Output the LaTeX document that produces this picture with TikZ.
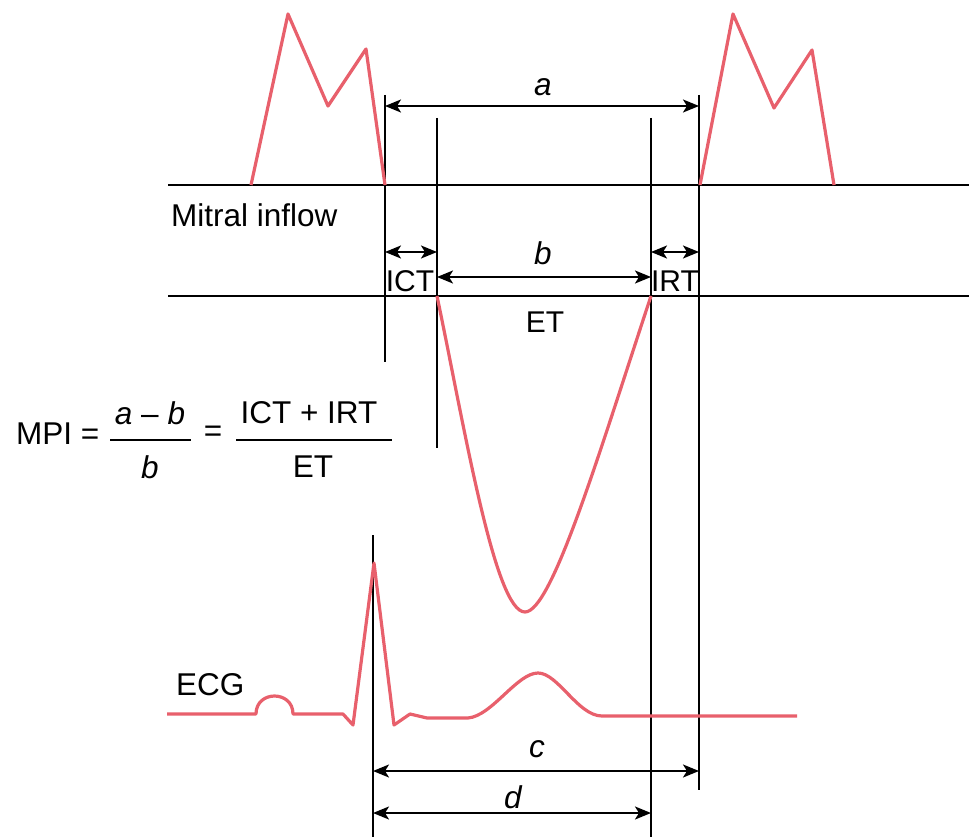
\documentclass[tikz,border=0pt]{standalone}
\usepackage{fontspec}
\setmainfont{Liberation Sans}
\usetikzlibrary{arrows.meta}
\definecolor{wave}{RGB}{232,96,108}
\begin{document}
\begin{tikzpicture}[x=1pt,y=-1pt,
  ln/.style={line width=1.8pt, black},
  wv/.style={line width=3.2pt, wave, line join=round},
  dim/.style={line width=1.9pt, {Stealth[length=16pt,width=13pt,inset=4pt]}-{Stealth[length=16pt,width=13pt,inset=4pt]}},
  lbl/.style={font=\fontsize{31.5}{36}\selectfont, inner sep=0pt, anchor=center},
  slbl/.style={font=\fontsize{30}{34}\selectfont, inner sep=0pt, anchor=center}]
\useasboundingbox (0,0) rectangle (969,837);

% baselines
\coordinate (m1) at (168,185); \coordinate (m2) at (969,185);
\coordinate (e1) at (168,296); \coordinate (e2) at (969,296);
\draw[ln] (m1) -- (m2);
\draw[ln] (e1) -- (e2);

% vertical lines
\coordinate (v1t) at (385,95);  \coordinate (v1b) at (385,362);
\coordinate (v2t) at (437,118); \coordinate (v2b) at (437,448);
\coordinate (v3t) at (651,118); \coordinate (v3b) at (651,837);
\coordinate (v4t) at (699,95);  \coordinate (v4b) at (699,790);
\coordinate (v5t) at (373,535); \coordinate (v5b) at (373,837);
\draw[ln] (v1t) -- (v1b);
\draw[ln] (v2t) -- (v2b);
\draw[ln] (v3t) -- (v3b);
\draw[ln] (v4t) -- (v4b);
\draw[ln] (v5t) -- (v5b);

% mitral waves
\draw[wv] (251,185) -- (288,14) -- (328,106) -- (366,49) -- (385,185);
\draw[wv] (700,185) -- (733,14) -- (774,108) -- (812,50) -- (834,185);

% ET curve
\draw[wv] (437,296) .. controls (465,430) and (495,612) .. (525,612)
                    .. controls (552,612) and (600,450) .. (651,296);

% ECG
\draw[wv] (167,714) -- (256,714) .. controls (256,690) and (293,690) .. (293,714)
  -- (343,714) -- (353,725) -- (374,563) -- (394,725) -- (410,714) -- (427,718)
  -- (468,718) .. controls (492,716) and (517,673) .. (538,673)
  .. controls (558,673) and (578,716) .. (602,716) -- (797,716);

% dimension arrows
\coordinate (a1) at (385,106); \coordinate (a2) at (699,106);
\coordinate (i1) at (385,252); \coordinate (i2) at (437,252);
\coordinate (b1) at (437,277); \coordinate (b2) at (651,277);
\coordinate (r1) at (651,252); \coordinate (r2) at (699,252);
\coordinate (c1) at (373,771); \coordinate (c2) at (699,771);
\coordinate (d1) at (373,813); \coordinate (d2) at (651,813);
\draw[dim] (a1) -- (a2);
\draw[dim] (i1) -- (i2);
\draw[dim] (b1) -- (b2);
\draw[dim] (r1) -- (r2);
\draw[dim] (c1) -- (c2);
\draw[dim] (d1) -- (d2);

% labels
\node[lbl] (la) at (543,87) {\itshape a};
\node[lbl] (lb) at (543,253) {\itshape b};
\node[lbl] (lc) at (537,749) {\itshape c};
\node[lbl] (ld) at (513,797) {\itshape d};
\node[slbl] (lict) at (410,281) {ICT};
\node[slbl] (lirt) at (675,281) {IRT};
\node[slbl] (let) at (545,322) {ET};
\node[lbl, anchor=west] (lmi) at (171,215) {Mitral inflow};
\node[lbl, anchor=west] (lecg) at (176,685) {ECG};

% formula
\node[lbl, anchor=west] (mpi) at (16,434) {MPI =};
\node[lbl] (n1) at (150,413) {\itshape a\/\upshape\ – \itshape b};
\node[lbl] (d1t) at (150,467) {\itshape b};
\node[lbl] (eq2) at (213,434) {=};
\node[lbl] (n2) at (309,413) {ICT + IRT};
\node[lbl] (d2t) at (313,467) {ET};
\coordinate (f1a) at (110,440); \coordinate (f1b) at (191,440);
\coordinate (f2a) at (236,440); \coordinate (f2b) at (392,440);
\draw[line width=1.7pt] (f1a) -- (f1b);
\draw[line width=1.7pt] (f2a) -- (f2b);
\end{tikzpicture}
\end{document}
